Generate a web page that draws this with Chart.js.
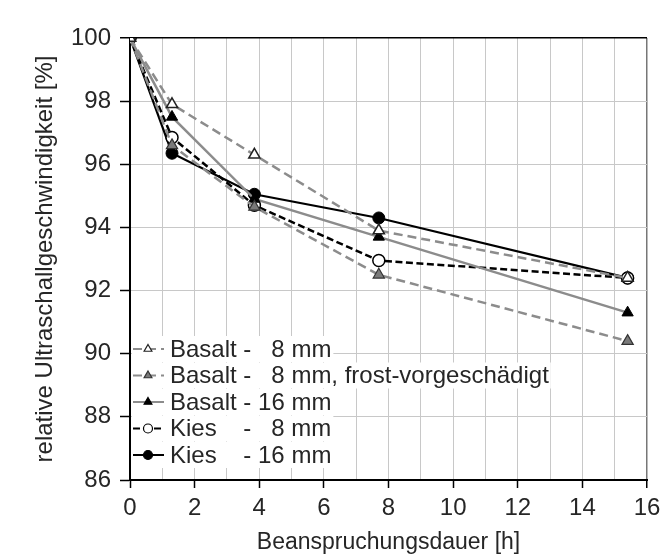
<!DOCTYPE html>
<html>
<head>
<meta charset="utf-8">
<script src="https://cdn.jsdelivr.net/npm/chart.js@4/dist/chart.umd.min.js"></script>
<style>
  html, body { margin: 0; padding: 0; background: #fff; }
  #wrap { width: 671px; height: 558px; }
</style>
</head>
<body>
<div id="wrap"><canvas id="myChart"></canvas></div>
<script>
// Messzeitpunkte [h]
var hours = [0, 1.3, 3.85, 7.7, 15.4];

// relative Ultraschallgeschwindigkeit [%]
var basalt8 = [100, 97.9, 96.3, 93.9, 92.4];
var basalt8Frost = [100, 96.6, 94.65, 92.5, 90.4];
var basalt16 = [100, 97.5, 94.9, 93.7, 91.3];
var kies8 = [100, 96.85, 94.7, 92.95, 92.4];
var kies16 = [100, 96.35, 95.05, 94.3, 92.4];

var seriesLabels = [
    'Basalt -   8 mm',
    'Basalt -   8 mm, frost-vorgeschädigt',
    'Basalt - 16 mm',
    'Kies    -   8 mm',
    'Kies    - 16 mm'
];

var yTicks = [86, 88, 90, 92, 94, 96, 98, 100];

function pts(values) {
    return values.map((v, i) => ({ x: hours[i], y: v }));
}

var FONT = '"Liberation Sans", Arial, sans-serif';
var TEXT = '#262626';
var grey = '#8c8c8c';

// Legende mit Linie + Symbol, wie im Original
var lineLegend = {
    id: 'lineLegend',
    afterDraw(chart) {
        var ctx = chart.ctx;
        var x0 = 132, rowY = 349, rowH = 26.5;
        ctx.save();
        ctx.font = '24px ' + FONT;
        ctx.textBaseline = 'middle';
        chart.data.datasets.forEach((ds, i) => {
            var y = rowY + i * rowH;
            var w = ctx.measureText(ds.label).width;
            ctx.fillStyle = '#fff';
            ctx.fillRect(x0, y - 13, 38 + w + 2, 26);
            // Linie
            ctx.beginPath();
            ctx.setLineDash(ds.borderDash || []);
            ctx.strokeStyle = ds.borderColor;
            ctx.lineWidth = 2;
            ctx.moveTo(x0 + 1, y);
            ctx.lineTo(x0 + 32, y);
            ctx.stroke();
            ctx.setLineDash([]);
            // Symbol
            ctx.fillStyle = ds.pointBackgroundColor;
            ctx.strokeStyle = ds.pointBorderColor;
            ctx.lineWidth = 1.2;
            Chart.helpers.drawPoint(ctx, {
                pointStyle: ds.pointStyle, radius: 4.5, rotation: 0, borderWidth: 1.2
            }, x0 + 16, y);
            // Text
            ctx.fillStyle = TEXT;
            ctx.fillText(ds.label, x0 + 38, y + 1);
        });
        ctx.restore();
    }
};

var ctx = document.getElementById('myChart').getContext('2d');
var myChart = new Chart(ctx, {
    type: 'line',
    data: {
        datasets: [{
            label: seriesLabels[0],
            data: pts(basalt8),
            borderColor: grey,
            borderWidth: 2.5,
            borderDash: [9, 5],
            pointStyle: 'triangle',
            pointRadius: 6.5,
            pointBackgroundColor: '#fff',
            pointBorderColor: '#222',
            pointBorderWidth: 1.5
        }, {
            label: seriesLabels[1],
            data: pts(basalt8Frost),
            borderColor: grey,
            borderWidth: 2.5,
            borderDash: [9, 5],
            pointStyle: 'triangle',
            pointRadius: 6.5,
            pointBackgroundColor: '#7a7a7a',
            pointBorderColor: '#333',
            pointBorderWidth: 1.2
        }, {
            label: seriesLabels[2],
            data: pts(basalt16),
            borderColor: grey,
            borderWidth: 2.5,
            pointStyle: 'triangle',
            pointRadius: 6.5,
            pointBackgroundColor: '#000',
            pointBorderColor: '#000',
            pointBorderWidth: 1
        }, {
            label: seriesLabels[3],
            data: pts(kies8),
            borderColor: '#000',
            borderWidth: 2.5,
            borderDash: [7, 3.5],
            pointStyle: 'circle',
            pointRadius: 6,
            pointBackgroundColor: '#fff',
            pointBorderColor: '#000',
            pointBorderWidth: 1.5
        }, {
            label: seriesLabels[4],
            data: pts(kies16),
            borderColor: '#000',
            borderWidth: 2.2,
            pointStyle: 'circle',
            pointRadius: 6,
            pointBackgroundColor: '#000',
            pointBorderColor: '#000',
            pointBorderWidth: 1
        }]
    },
    options: {
        responsive: true,
        maintainAspectRatio: false,
        animation: false,
        layout: { padding: { top: 38, right: 24, left: 0, bottom: 0 } },
        plugins: {
            legend: { display: false },
            tooltip: { enabled: false }
        },
        elements: { line: { tension: 0 } },
        scales: {
            x: {
                type: 'linear',
                min: 0,
                max: 16,
                ticks: {
                    stepSize: 1,
                    color: TEXT,
                    font: { family: FONT, size: 24 },
                    padding: 6,
                    maxRotation: 0,
                    autoSkip: false,
                    callback: v => (v % 2 === 0 ? v : '')
                },
                grid: {
                    color: c => (c.tick && c.tick.value === 16 ? '#777' : '#c8c8c8'),
                    lineWidth: c => (c.tick && c.tick.value === 16 ? 1.5 : 1),
                    tickLength: 8,
                    tickColor: c => (c.tick && c.tick.value % 2 === 0 ? '#000' : 'rgba(0,0,0,0)'),
                    tickWidth: 1.5
                },
                border: { color: '#000', width: 2 },
                title: {
                    display: true,
                    text: 'Beanspruchungsdauer [h]',
                    color: TEXT,
                    font: { family: FONT, size: 23 },
                    padding: { top: 0, bottom: 2 }
                },
                afterFit: s => { s.height = 78; }
            },
            y: {
                min: 86,
                max: 100,
                afterBuildTicks: s => { s.ticks = yTicks.map(v => ({ value: v })); },
                ticks: {
                    color: TEXT,
                    font: { family: FONT, size: 24 },
                    padding: 9
                },
                grid: {
                    color: c => (c.tick && c.tick.value === 100 ? '#000' : '#c8c8c8'),
                    lineWidth: c => (c.tick && c.tick.value === 100 ? 1.5 : 1),
                    tickLength: 10,
                    tickColor: '#000',
                    tickWidth: 1.5
                },
                border: { color: '#000', width: 2 },
                title: {
                    display: true,
                    text: 'relative Ultraschallgeschwindigkeit [%]',
                    color: TEXT,
                    font: { family: FONT, size: 24 },
                    padding: { top: 31, bottom: 0 }
                },
                afterFit: s => { s.width = 130; }
            }
        }
    },
    plugins: [lineLegend]
});
</script>
</body>
</html>
